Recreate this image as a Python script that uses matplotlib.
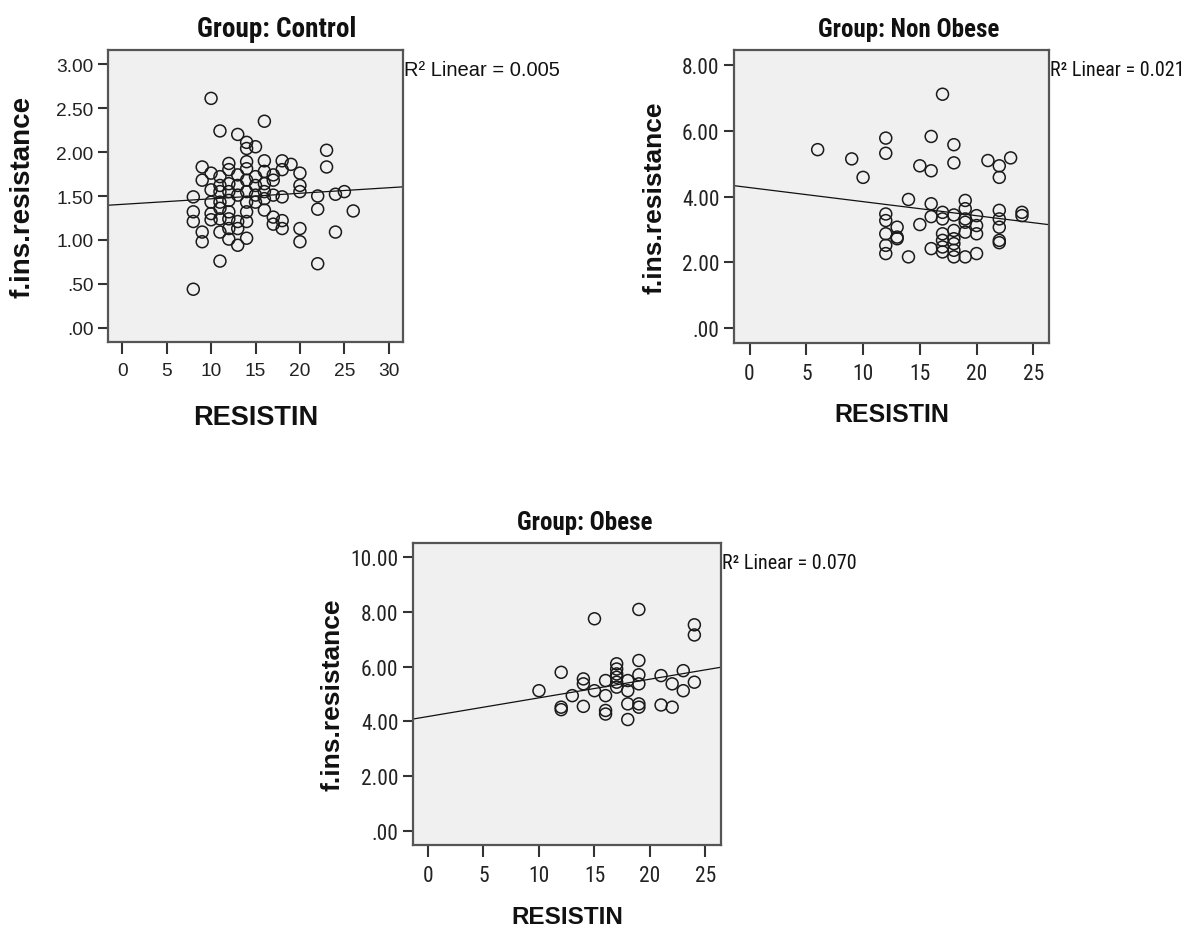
import os
import numpy as np
import matplotlib
matplotlib.use('Agg')
import matplotlib.pyplot as plt
from matplotlib import font_manager as fm
from matplotlib.font_manager import FontProperties

# ---------------- data ----------------
control_resistin = [10, 16, 11, 13, 14, 15, 14, 23, 23, 9, 12, 16, 18, 19, 12, 14, 14, 17, 16, 18,
                    20, 10, 9, 11, 13, 20, 11, 12, 15, 16, 10, 20, 8, 13, 14, 15, 18, 22, 24, 25,
                    10, 12, 14, 16, 8, 10, 11, 12, 16, 22, 26, 8, 10, 11, 13, 14, 17, 17, 18, 18,
                    20, 9, 11, 12, 24, 9, 12, 13, 14, 20, 11, 22, 8, 11, 12, 13, 14, 15, 16, 17,
                    12, 11, 15, 13, 17, 14]
control_ir = [2.61, 2.35, 2.24, 2.20, 2.11, 2.06, 2.04, 2.02, 1.83, 1.83, 1.87, 1.90, 1.90, 1.86, 1.80, 1.89, 1.81, 1.74, 1.78, 1.80,
              1.76, 1.76, 1.68, 1.72, 1.74, 1.62, 1.62, 1.64, 1.62, 1.64, 1.57, 1.55, 1.49, 1.51, 1.55, 1.51, 1.49, 1.50, 1.52, 1.55,
              1.43, 1.45, 1.43, 1.47, 1.32, 1.30, 1.36, 1.32, 1.34, 1.35, 1.33, 1.21, 1.23, 1.24, 1.21, 1.21, 1.26, 1.18, 1.22, 1.13,
              1.13, 1.09, 1.09, 1.13, 1.09, 0.98, 1.01, 0.94, 1.02, 0.98, 0.76, 0.73, 0.44, 1.55, 1.55, 1.62, 1.68, 1.72, 1.55, 1.68,
              1.24, 1.43, 1.43, 1.13, 1.51, 1.32]

nonobese_resistin = [17, 6, 12, 12, 9, 10, 16, 18, 18, 15, 16, 21, 22, 23, 22, 14, 16, 19, 12, 12,
                     13, 13, 12, 12, 12, 14, 15, 16, 17, 17, 18, 19, 19, 20, 20, 22, 22, 22, 22, 22,
                     24, 24, 17, 17, 17, 18, 18, 18, 18, 18, 19, 19, 20, 20, 16, 17, 19, 13]
nonobese_ir = [7.10, 5.42, 5.77, 5.31, 5.14, 4.58, 5.82, 5.57, 5.02, 4.93, 4.78, 5.09, 4.93, 5.17, 4.58, 3.91, 3.78, 3.88, 3.47, 3.27,
               3.07, 2.77, 2.87, 2.52, 2.27, 2.17, 3.15, 3.39, 3.52, 3.32, 3.44, 3.63, 3.32, 3.42, 3.12, 3.58, 3.32, 3.07, 2.67, 2.60,
               3.52, 3.42, 2.87, 2.67, 2.47, 2.97, 2.72, 2.57, 2.37, 2.17, 2.92, 2.17, 2.87, 2.27, 2.42, 2.32, 3.22, 2.72]

obese_resistin = [15, 19, 24, 24, 19, 17, 17, 17, 12, 23, 21, 19, 14, 14, 16, 18, 17, 19, 22, 24,
                  17, 10, 15, 18, 23, 13, 16, 12, 12, 14, 16, 16, 18, 19, 19, 21, 22, 18, 17]
obese_ir = [7.74, 8.08, 7.52, 7.15, 6.22, 6.10, 5.91, 5.73, 5.79, 5.85, 5.67, 5.70, 5.55, 5.37, 5.49, 5.49, 5.43, 5.37, 5.37, 5.43,
            5.25, 5.12, 5.12, 5.12, 5.12, 4.94, 4.94, 4.52, 4.43, 4.55, 4.40, 4.27, 4.64, 4.64, 4.52, 4.60, 4.52, 4.07, 5.61]

groups = ["Control", "Non Obese", "Obese"]
r2_values = ["0.005", "0.021", "0.070"]
fit_intercepts = [1.405, 4.27, 4.18]
fit_slopes = [0.0063, -0.0426, 0.068]

x_ticks = [[0, 5, 10, 15, 20, 25, 30], [0, 5, 10, 15, 20, 25], [0, 5, 10, 15, 20, 25]]
y_ticks = [[0, 0.5, 1.0, 1.5, 2.0, 2.5, 3.0], [0, 2, 4, 6, 8], [0, 2, 4, 6, 8, 10]]
y_tick_labels = [[".00", ".50", "1.00", "1.50", "2.00", "2.50", "3.00"],
                 [".00", "2.00", "4.00", "6.00", "8.00"],
                 [".00", "2.00", "4.00", "6.00", "8.00", "10.00"]]
x_label = "RESISTIN"
y_label = "f.ins.resistance"


# ---------------- font selection ----------------
def find_narrow(bold):
    cands = []
    for f in fm.fontManager.ttflist:
        base = os.path.basename(f.fname)
        low = base.lower()
        if 'italic' in low or 'oblique' in low:
            continue
        is_narrow = ('narrow' in low or 'condensed' in low or 'Narrow' in f.name
                     or 'Condensed' in f.name)
        if not is_narrow:
            continue
        if 'extra' in low or 'semi' in low or 'ultra' in low:
            continue
        if 'light' in low or 'thin' in low or 'medium' in low or 'black' in low:
            continue
        wb = ('bold' in low)
        if wb != bold:
            continue
        pref = 0
        if 'liberation' in low:
            pref = 5
        elif 'arimo' in low:
            pref = 4
        elif 'roboto' in low:
            pref = 3
        elif 'noto' in low:
            pref = 2
        elif 'dejavu' in low:
            pref = 1
        cands.append((pref, f.fname))
    if not cands:
        return None
    cands.sort(reverse=True)
    return cands[0][1]


NARROW_REG = find_narrow(False)
NARROW_BOLD = find_narrow(True)
HAVE_NARROW = NARROW_REG is not None and NARROW_BOLD is not None


def fp(size, bold=False, narrow=False):
    if narrow and HAVE_NARROW:
        return FontProperties(fname=NARROW_BOLD if bold else NARROW_REG, size=size)
    if narrow:
        size = size * 0.86
    return FontProperties(family=['Liberation Sans', 'DejaVu Sans'],
                          weight='bold' if bold else 'normal', size=size)


# ---------------- layout ----------------
W, H = 1190, 929
fig = plt.figure(figsize=(W / 100, H / 100), dpi=100)
fig.patch.set_facecolor('white')

boxes = [(108, 51, 403, 343), (734, 51, 1049, 344), (413, 544, 721, 846)]
xlims = [(-1.6, 31.6), (-1.37, 26.38), (-1.35, 26.4)]
ylims = [(-0.16, 3.16), (-0.44, 8.44), (-0.5, 10.5)]
xs_data = [control_resistin, nonobese_resistin, obese_resistin]
ys_data = [control_ir, nonobese_ir, obese_ir]

title_pos = [(277, 37), (909, 37), (585, 530)]
title_size = [19.5, 18, 18]
r2_pos = [(404, 76.5), (1050, 76), (722, 569.5)]
ylab_pos = [(22.5, 197), (655, 197.5), (332, 695)]
ylab_size = [20, 19, 19]
xlab_base = [425.5, 422.5, 924.5]
xlab_size = [19.5, 18, 17.5]


def fx(x):
    return x / W


def fy(y):
    return 1 - y / H


for i in range(3):
    l, t, r, b = boxes[i]
    narrow = i > 0
    ax = fig.add_axes([fx(l), fy(b), (r - l) / W, (b - t) / H])
    ax.set_facecolor('#f0f0f0')
    ax.scatter(xs_data[i], ys_data[i], s=74, facecolors='none', edgecolors='#1a1a1a',
               linewidths=1.1, zorder=3)
    xl = np.array(xlims[i])
    ax.plot(xl, fit_intercepts[i] + fit_slopes[i] * xl, color='#111111', lw=0.9, zorder=2)
    ax.set_xlim(xlims[i])
    ax.set_ylim(ylims[i])
    ax.set_xticks(x_ticks[i])
    ax.set_xticklabels([str(v) for v in x_ticks[i]])
    ax.set_yticks(y_ticks[i])
    ax.set_yticklabels(y_tick_labels[i])
    for s in ax.spines.values():
        s.set_color('#555555')
        s.set_linewidth(1.6)
    ax.tick_params(axis='y', direction='out', length=7, width=1.5, color='#333333', pad=3.5,
                   labelcolor='#222222')
    ax.tick_params(axis='x', direction='out', length=8.5, width=1.5, color='#333333', pad=6,
                   labelcolor='#222222')
    tick_fp = fp(13.8, narrow=False) if i == 0 else fp(15.5, narrow=True)
    for lbl in ax.get_xticklabels() + ax.get_yticklabels():
        lbl.set_fontproperties(tick_fp)

    tx, ty = title_pos[i]
    fig.text(fx(tx), fy(ty), "Group: " + groups[i], ha='center', va='baseline',
             fontproperties=fp(title_size[i], bold=True, narrow=True), color='#111111')
    rx, ry = r2_pos[i]
    fig.text(fx(rx), fy(ry), "R² Linear = " + r2_values[i], ha='left', va='baseline',
             fontproperties=fp(14.5, narrow=narrow), color='#111111')
    yx, yy = ylab_pos[i]
    fig.text(fx(yx), fy(yy), y_label, rotation=90, ha='center', va='center',
             fontproperties=fp(ylab_size[i], bold=True), color='#111111')
    fig.text(fx((l + r) / 2), fy(xlab_base[i]), x_label, ha='center', va='baseline',
             fontproperties=fp(xlab_size[i], bold=True), color='#111111')

fig.savefig('out.png', dpi=100)
